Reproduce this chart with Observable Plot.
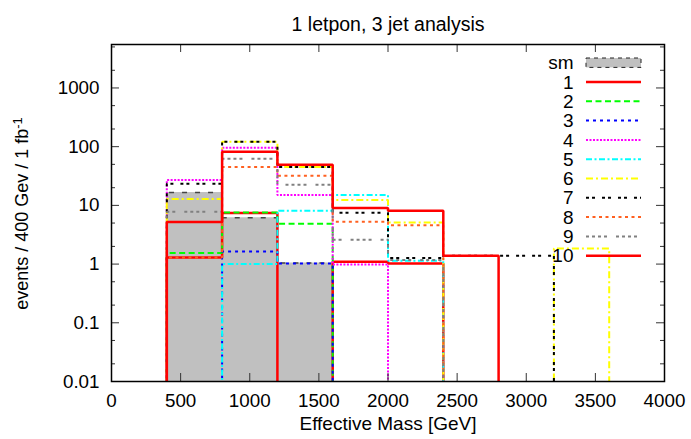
<!DOCTYPE html>
<html><head><meta charset="utf-8">
<script src="https://cdn.jsdelivr.net/npm/d3@7"></script>
<script src="https://cdn.jsdelivr.net/npm/@observablehq/plot@0.6"></script>
<style>
body{margin:0;background:#fff;}
#chart{width:691px;height:439px;}
</style>
</head><body><div id="chart"></div>
<script>
// ---- data ----
const binEdges = [0, 400, 800, 1200, 1600, 2000, 2400, 2800, 3200, 3600, 4000];
const sm  = [0, 16.6, 6.15, 1.04, 0, 0, 0, 0, 0, 0];
const s1  = [0, 1.3, 7.4, 0, 1.1, 1.02, 0, 0, 0, 0];
const s2  = [0, 1.54, 7.6, 4.86, 0, 0, 0, 0, 0, 0];
const s3  = [0, 0, 1.64, 1.02, 0, 0, 0, 0, 0, 0];
const s4  = [0, 27, 96, 15, 0.98, 0, 0, 0, 0, 0];
const s5  = [0, 0, 1.0, 8.1, 15, 1.14, 0, 0, 0, 0];
const s6  = [0, 12.8, 121, 45, 12.4, 5.1, 0, 0, 1.84, 0];
const s7  = [0, 23.3, 121, 45, 7.5, 1.27, 1.38, 1.38, 0, 0];
const s8  = [0, 1.3, 45, 32, 5.25, 4.6, 0, 0, 0, 0];
const s9  = [0, 7.8, 62, 22.4, 2.6, 1.17, 0, 0, 0, 0];
const s10 = [0, 5.2, 82, 49, 9.0, 8.1, 1.38, 0, 0, 0];
const seriesNames = ["1", "2", "3", "4", "5", "6", "7", "8", "9", "10"];
const smName = "sm";
const xTicks = [0, 500, 1000, 1500, 2000, 2500, 3000, 3500, 4000];
const yTicks = [0.01, 0.1, 1, 10, 100, 1000];
const yMinorTicks = [0.02, 0.05, 0.2, 0.5, 2, 5, 20, 50, 200, 500, 2000, 5000];
const titleText = "1 letpon, 3 jet analysis";
const xLabel = "Effective Mass [GeV]";
const yLabelMain = "events / 400 Gev / 1 fb";
const yLabelSup = "-1";

// ---- styles ----
const seriesValues = [s1, s2, s3, s4, s5, s6, s7, s8, s9, s10];
const colors = ["#ff0000", "#00ff00", "#0000ff", "#ff00ff", "#00ffff", "#ffff00", "#000000", "#ff6020", "#808080", "#ff0000"];
const dashes = [null, "6,3.5", "3,4", "2,1.5", "6,2.5,2,2.5", "7,3,2,3", "3,3,3,7", "3,3.5", "3,3,3,3,3,3,3,9", null];
const widths = [2.5, 2, 2, 2, 2, 2, 2, 2, 2, 2.5];

const W = 691, H = 439, mL = 111, mR = 27, mT = 44, mB = 58;
const fw = W - mL - mR, fh = H - mT - mB;
const FLOOR = 1e-4;

function steps(values) {
  const pts = [];
  values.forEach((v, i) => {
    const y = v > 0 ? v : FLOOR;
    pts.push({x: binEdges[i], y}, {x: binEdges[i + 1], y});
  });
  return pts;
}

const seriesMarks = seriesValues.map((vals, i) =>
  Plot.line(steps(vals), {
    x: "x", y: "y", stroke: colors[i], strokeWidth: widths[i],
    strokeDasharray: dashes[i] || undefined, strokeLinecap: "butt", strokeLinejoin: "miter", clip: true
  })
);

const chart = Plot.plot({
  width: W, height: H,
  marginLeft: mL, marginRight: mR, marginTop: mT, marginBottom: mB,
  style: "font-family: 'Liberation Sans', Arial, sans-serif; font-size: 18px; color: black; background: white;",
  x: {domain: [0, 4000]},
  y: {type: "log", domain: [0.01, 5500]},
  marks: [
    Plot.areaY(steps(sm), {x: "x", y1: FLOOR, y2: "y", fill: "#c0c0c0", clip: true}),
    Plot.line(steps(sm), {x: "x", y: "y", stroke: "#444", strokeWidth: 1.5, strokeDasharray: "5,8", strokeLinecap: "butt", clip: true}),
    ...seriesMarks,
    Plot.tickX(xTicks, {x: d => d, insetTop: fh - 8, stroke: "#333"}),
    Plot.tickX(xTicks, {x: d => d, insetBottom: fh - 8, stroke: "#333"}),
    Plot.tickY(yTicks, {y: d => d, insetRight: fw - 8, stroke: "#333"}),
    Plot.tickY(yTicks, {y: d => d, insetLeft: fw - 8, stroke: "#333"}),
    Plot.tickY(yMinorTicks, {y: d => d, insetRight: fw - 4, stroke: "#333"}),
    Plot.tickY(yMinorTicks, {y: d => d, insetLeft: fw - 4, stroke: "#333"}),
    Plot.frame({stroke: "black", strokeWidth: 1.5}),
    Plot.axisX(xTicks, {anchor: "bottom", tickSize: 0, tickPadding: 12, tickFormat: d => String(d), label: null, fontSize: 18.8}),
    Plot.axisY(yTicks, {anchor: "left", tickSize: 0, tickPadding: 12, tickFormat: d => String(d), label: null, fontSize: 18.8}),
    Plot.text([titleText], {text: d => d, frameAnchor: "top", dy: -27.5, fontSize: 19.5}),
    Plot.text([xLabel], {text: d => d, frameAnchor: "bottom", dy: 48.5, fontSize: 19})
  ]
});
document.getElementById("chart").appendChild(chart);

// y-axis label with superscript
const svg = d3.select(chart);
const yl = svg.append("text")
  .attr("transform", `translate(28.3,${mT + fh / 2 + 1}) rotate(-90)`)
  .attr("text-anchor", "middle").attr("font-size", 18).attr("fill", "black");
yl.append("tspan").text(yLabelMain);
yl.append("tspan").attr("dy", "-0.45em").attr("font-size", 13).text(yLabelSup);

// legend
const lg = svg.append("g");
const keys = [smName, ...seriesNames];
keys.forEach((k, i) => {
  const y = 62.7 + i * 19.3;
  lg.append("text").attr("x", 573.5).attr("y", y).attr("dy", "0.35em")
    .attr("text-anchor", "end").attr("font-size", 19).attr("fill", "black").text(k);
  if (i === 0) {
    lg.append("rect").attr("x", 586).attr("y", y - 4.7).attr("width", 55).attr("height", 9.4)
      .attr("fill", "#c0c0c0").attr("stroke", "#222").attr("stroke-width", 1).attr("stroke-dasharray", "4,4");
  } else {
    const j = i - 1;
    lg.append("line").attr("x1", 586).attr("x2", 641).attr("y1", y).attr("y2", y)
      .attr("stroke", colors[j]).attr("stroke-width", widths[j])
      .attr("stroke-dasharray", dashes[j] || null);
  }
});
</script>
</body></html>
